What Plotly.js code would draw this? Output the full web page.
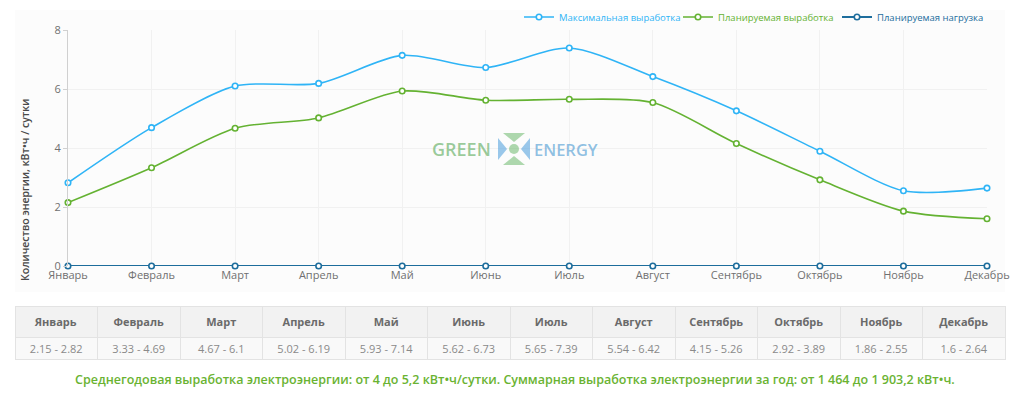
<!DOCTYPE html>
<html><head><meta charset="utf-8">
<script src="https://cdn.plot.ly/plotly-3.0.1.min.js"></script>
<style>html,body{margin:0;padding:0;background:#fff;}#c{width:1024px;height:394px;}</style>
</head><body><div id="c"></div>
<script>
const months = ["Январь","Февраль","Март","Апрель","Май","Июнь","Июль","Август","Сентябрь","Октябрь","Ноябрь","Декабрь"];
const maxOutput = [2.82,4.69,6.1,6.19,7.14,6.73,7.39,6.42,5.26,3.89,2.55,2.64];
const plannedOutput = [2.15,3.33,4.67,5.02,5.93,5.62,5.65,5.54,4.15,2.92,1.86,1.6];
const plannedLoad = [0,0,0,0,0,0,0,0,0,0,0,0];
const seriesNames = ["Максимальная выработка","Планируемая выработка","Планируемая нагрузка"];
const yTitle = "Количество энергии, кВт•ч / сутки";
const footerText = "Среднегодовая выработка электроэнергии: от 4 до 5,2 кВт•ч/сутки. Суммарная выработка электроэнергии за год: от 1 464 до 1 903,2 кВт•ч.";

const W = 1024, H = 394;
const px = x => x / W, py = y => 1 - y / H;
const colors = ["#2fb4f6", "#64b232", "#1d6d9c"];
const FONT = "Open Sans, Noto Sans, sans-serif";

function lineTrace(y, i) {
  return {
    type: "scatter", mode: "lines+markers", x: months, y: y,
    name: '<span style="color:' + colors[i] + '">' + seriesNames[i] + '</span>',
    line: {color: colors[i], width: i === 2 ? 2 : 1.6, shape: "spline", smoothing: 0.8},
    marker: {symbol: "circle", size: 5.5, color: "#fff", line: {color: colors[i], width: 1.6}},
    cliponaxis: false, hoverinfo: "x+y"
  };
}

const ranges = months.map((m, i) => plannedOutput[i] + " - " + maxOutput[i]);
const tableTrace = {
  type: "table",
  domain: {x: [px(15), px(1005)], y: [py(366), py(306)]},
  header: {
    values: months.map(m => "<b>" + m + "</b>"),
    align: "center", height: 24,
    fill: {color: "#f2f2f2"},
    line: {color: "#e3e3e3", width: 1},
    font: {family: FONT, size: 11, color: "#6a6a6a"}
  },
  cells: {
    values: ranges.map(r => [r]),
    align: "center", height: 22,
    fill: {color: "#f9f9f9"},
    line: {color: "#e3e3e3", width: 1},
    font: {family: FONT, size: 11, color: "#8a8a8a"}
  }
};

const traces = [lineTrace(maxOutput, 0), lineTrace(plannedOutput, 1), lineTrace(plannedLoad, 2), tableTrace];

const cx = 514, cy = 149;
const G = "rgba(120,190,120,0.6)", B = "rgba(100,170,225,0.65)";
function tri(a, b, c, col) {
  return {type: "path", xref: "paper", yref: "paper",
    path: "M "+px(a[0])+" "+py(a[1])+" L "+px(b[0])+" "+py(b[1])+" L "+px(c[0])+" "+py(c[1])+" Z",
    fillcolor: col, line: {width: 0}};
}
const layout = {
  width: W, height: H,
  margin: {l: 0, r: 0, t: 0, b: 0, autoexpand: false},
  paper_bgcolor: "#ffffff", plot_bgcolor: "rgba(0,0,0,0)",
  font: {family: FONT, size: 11, color: "#707070"},
  showlegend: true,
  legend: {orientation: "h", x: px(519), xanchor: "left", y: py(17), yanchor: "middle",
    font: {family: FONT, size: 9.5}, bgcolor: "rgba(0,0,0,0)", itemwidth: 30,
    entrywidth: 114, entrywidthmode: "pixels", tracegroupgap: 0},
  xaxis: {domain: [px(68), px(987)], type: "category", range: [0, 11],
    showgrid: true, gridcolor: "#f1f1f1", zeroline: false, showline: false, automargin: false,
    tickfont: {family: FONT, size: 11, color: "#707070"}, ticks: "", ticklabelstandoff: 1, fixedrange: true},
  yaxis: {domain: [py(266), py(30)], range: [0, 8], dtick: 2, automargin: false,
    showgrid: true, gridcolor: "#f1f1f1", zeroline: false,
    showline: true, linecolor: "#d0d0d0", linewidth: 1,
    ticks: "outside", ticklen: 4, tickcolor: "#d0d0d0",
    tickfont: {family: FONT, size: 11, color: "#707070"},
    fixedrange: true},
  shapes: [
    {type: "rect", xref: "paper", yref: "paper", x0: px(15), x1: px(1005), y0: py(292), y1: py(10),
      fillcolor: "#fcfcfc", line: {width: 0}, layer: "below"},
    {type: "circle", xref: "paper", yref: "paper", x0: px(cx-5), x1: px(cx+5), y0: py(cy+5), y1: py(cy-5),
      fillcolor: G, line: {width: 0}},
    tri([cx-11, cy-16], [cx+11, cy-16], [cx, cy-7], G),
    tri([cx-11, cy+16], [cx+11, cy+16], [cx, cy+7], G),
    tri([cx-16, cy-11], [cx-16, cy+11], [cx-7, cy], B),
    tri([cx+16, cy-11], [cx+16, cy+11], [cx+7, cy], B)
  ],
  annotations: [
    {xref: "paper", yref: "paper", x: px(25), y: py(190), xanchor: "center", yanchor: "middle", textangle: -90,
      text: yTitle, showarrow: false, font: {family: FONT, size: 10.5, color: "#4a4a4a", weight: 600}},
    {xref: "paper", yref: "paper", x: px(cx-21), y: py(cy), xanchor: "right", yanchor: "middle",
      text: "GREEN", showarrow: false, font: {family: FONT, size: 18, weight: 600, color: "rgba(110,180,110,0.7)"}},
    {xref: "paper", yref: "paper", x: px(cx+18), y: py(cy), xanchor: "left", yanchor: "middle",
      text: "ENERGY", showarrow: false, font: {family: FONT, size: 16.5, weight: 600, color: "rgba(95,165,215,0.7)"}},
    {xref: "paper", yref: "paper", x: px(515), y: py(379), xanchor: "center", yanchor: "middle",
      text: footerText, showarrow: false, font: {family: FONT, size: 12.5, weight: 600, color: "#6ab332"}}
  ]
};

Plotly.newPlot("c", traces, layout, {displayModeBar: false, staticPlot: true});
</script></body></html>
